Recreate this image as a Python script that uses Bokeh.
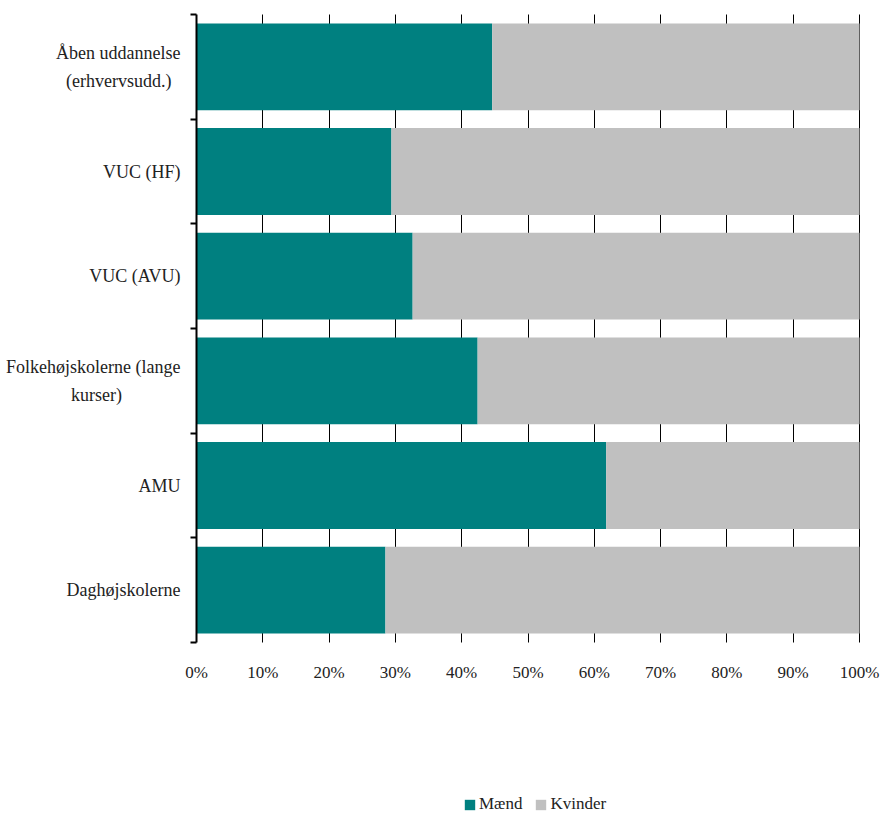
from bokeh.plotting import figure
from bokeh.models import FixedTicker, NumeralTickFormatter, Legend, LegendItem, Range1d, Grid
from bokeh.embed import file_html
from bokeh.resources import INLINE

NB = "\u00a0"
categories = ["Åben uddannelse\n(erhvervsudd.)" + NB * 2, "VUC (HF)", "VUC (AVU)",
              "Folkehøjskolerne (lange\nkurser)" + NB * 13, "AMU", "Daghøjskolerne"]
maend = [0.446, 0.294, 0.326, 0.424, 0.618, 0.285]
kvinder = [1 - m for m in maend]
series_names = ["Mænd", "Kvinder"]
colors = ["#008080", "#C0C0C0"]
x_ticks = [0.0, 0.1, 0.2, 0.3, 0.4, 0.5, 0.6, 0.7, 0.8, 0.9, 1.0]

n = len(categories)
centers = [n - 0.5 - i for i in range(n)]
bounds = list(range(n + 1))
totals = [m + k for m, k in zip(maend, kvinder)]

FONT = "Liberation Serif"
W, H = 883, 814
# plotting area: x 0..1 -> px 196..859, y 0..n -> px 642..14 (frame covers the whole page)
px_x = (859 - 196) / 1.0
px_y = (642 - 14) / n
x_range = Range1d(-196 / px_x, (W - 196) / px_x)
y_range = Range1d(-(H - 642) / px_y, n + 14 / px_y)

p = figure(width=W, height=H, output_backend="svg", toolbar_location=None,
           x_range=x_range, y_range=y_range,
           min_border_left=0, min_border_right=0, min_border_top=0,
           min_border_bottom=0)
p.outline_line_color = None

r1 = p.hbar(y=centers, left=0, right=maend, height=0.83, color=colors[0], line_color=None)
r2 = p.hbar(y=centers, left=maend, right=totals, height=0.83, color=colors[1], line_color=None)

# x axis
p.xaxis.fixed_location = 0
p.xaxis.ticker = FixedTicker(ticks=x_ticks)
p.xaxis.formatter = NumeralTickFormatter(format="0%")
p.xaxis.axis_line_color = None
p.xaxis.major_tick_line_color = None
p.xaxis.minor_tick_line_color = None
p.xaxis.major_tick_out = 0
p.xaxis.major_label_standoff = 20
p.xaxis.major_label_text_font = FONT
p.xaxis.major_label_text_font_size = "17px"
p.xaxis.major_label_text_color = "#222222"

# y axis
p.yaxis.fixed_location = 0
p.yaxis.bounds = (0, n)
p.yaxis.ticker = FixedTicker(ticks=centers, minor_ticks=bounds)
p.yaxis.major_label_overrides = {c: lab for c, lab in zip(centers, categories)}
p.yaxis.axis_line_color = "black"
p.yaxis.axis_line_width = 2
p.yaxis.major_tick_line_color = None
p.yaxis.major_tick_out = 0
p.yaxis.major_tick_in = 0
p.yaxis.minor_tick_line_color = "black"
p.yaxis.minor_tick_line_width = 2
p.yaxis.minor_tick_out = 6
p.yaxis.minor_tick_in = 0
p.yaxis.major_label_standoff = 10
p.yaxis.major_label_text_font = FONT
p.yaxis.major_label_text_font_size = "18px"
p.yaxis.major_label_text_line_height = 1.4
p.yaxis.major_label_text_color = "#222222"

p.ygrid.grid_line_color = None
if "cross_bounds" in Grid.properties():
    p.xgrid.ticker = FixedTicker(ticks=x_ticks[1:])
    p.xgrid.cross_bounds = (0, n)
    p.xgrid.grid_line_color = "black"
    p.xgrid.grid_line_width = 1
else:
    p.xgrid.grid_line_color = None
    p.segment(x0=x_ticks[1:], x1=x_ticks[1:], y0=0, y1=n, line_color="black",
              line_width=1, level="underlay")

legend = Legend(items=[LegendItem(label=series_names[0], renderers=[r1]),
                       LegendItem(label=series_names[1], renderers=[r2])],
                orientation="horizontal", location=(463, 0),
                padding=0, margin=0, spacing=12, glyph_width=13, glyph_height=13,
                label_standoff=3, border_line_color=None, background_fill_alpha=0,
                label_text_font=FONT, label_text_font_size="17px",
                label_text_color="#222222")
p.add_layout(legend, "center")

open("out.html", "w").write(file_html(p, INLINE))
